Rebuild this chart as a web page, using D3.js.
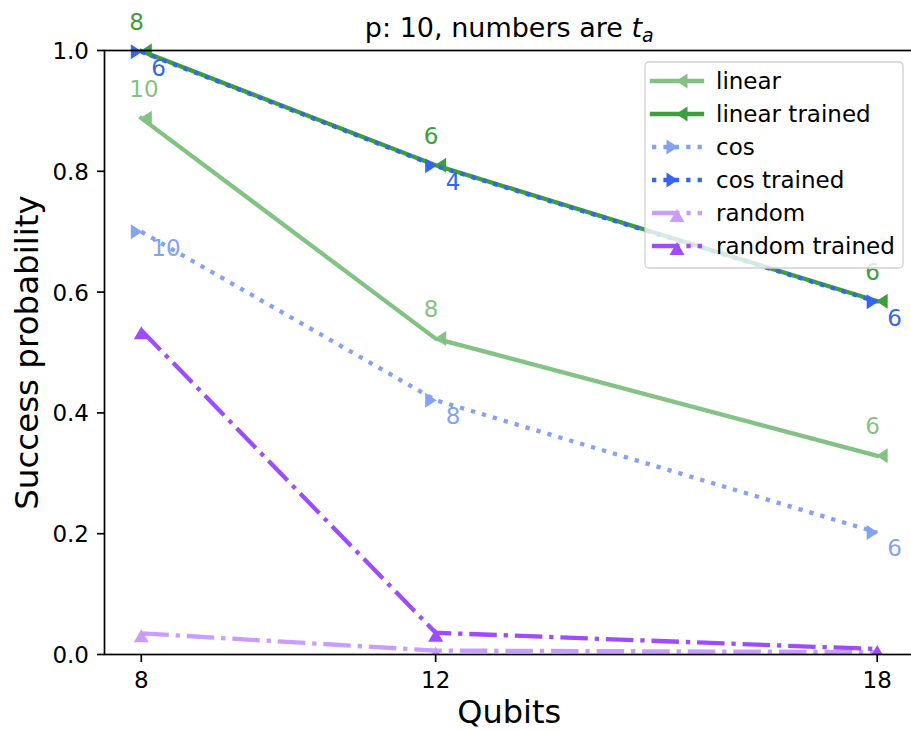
<!DOCTYPE html>
<html>
<head>
<meta charset="utf-8">
<script src="https://cdn.jsdelivr.net/npm/d3@7"></script>
<style>
  body { margin: 0; background: #fff; }
  svg { display: block; }
  text { font-family: "DejaVu Sans", sans-serif; fill: #000; }
</style>
</head>
<body>
<svg id="chart" width="911" height="730"></svg>
<script>
// Success probability per qubit count, with the t_a used at each point
const qubits = [8, 12, 18];
const linear = [0.888, 0.523, 0.329];
const linearTrained = [0.999, 0.810, 0.585];
const cosVals = [0.700, 0.421, 0.202];
const cosTrained = [0.998, 0.809, 0.584];
const randomVals = [0.035, 0.0065, 0.004];
const randomTrained = [0.537, 0.036, 0.009];

const linearTa = [10, 8, 6];
const linearTrainedTa = [8, 6, 6];
const cosTa = [10, 8, 6];
const cosTrainedTa = [6, 4, 6];

const seriesNames = ["linear", "linear trained", "cos", "cos trained", "random", "random trained"];
const xTicks = [8, 12, 18];
const yTicks = [0, 0.2, 0.4, 0.6, 0.8, 1.0];

const svg = d3.select("#chart");
const plot = { left: 104.5, right: 914, top: 50.5, bottom: 654.5 };

const x = d3.scaleLinear().domain([7.5, 18.5]).range([plot.left, plot.right]);
const y = d3.scaleLinear().domain([0, 1]).range([plot.bottom, plot.top]);

const LW = 4.3;
const green = "#339933", blue = "#3366ee", purple = "#9d4dff";
const dotted = `${LW},${LW * 1.65}`;
const dashDot = `${LW * 6.4},${LW * 1.6},${LW},${LW * 1.6}`;

const series = [
  { name: seriesNames[0], values: linear, ta: linearTa, color: green, alpha: 0.6, dash: null, marker: "left", ldx: -12, ldy: -21.5 },
  { name: seriesNames[1], values: linearTrained, ta: linearTrainedTa, color: green, alpha: 0.95, dash: null, marker: "left", ldx: -12, ldy: -21.5 },
  { name: seriesNames[2], values: cosVals, ta: cosTa, color: blue, alpha: 0.6, dash: dotted, marker: "right", ldx: 10, ldy: 24 },
  { name: seriesNames[3], values: cosTrained, ta: cosTrainedTa, color: blue, alpha: 1, dash: dotted, marker: "right", ldx: 10, ldy: 24 },
  { name: seriesNames[4], values: randomVals, ta: null, color: purple, alpha: 0.55, dash: dashDot, marker: "up" },
  { name: seriesNames[5], values: randomTrained, ta: null, color: purple, alpha: 1, dash: dashDot, marker: "up" }
];

// filled triangle markers, tip pointing in the given direction
function markerPath(kind) {
  if (kind === "left") return "M-1,0L10.5,-7.5L10.5,7.5Z";
  if (kind === "right") return "M1,0L-10.5,-7.5L-10.5,7.5Z";
  return "M0,-4L-7.5,9L7.5,9Z";
}

svg.append("defs").append("clipPath").attr("id", "plot-clip")
  .append("rect")
  .attr("x", plot.left).attr("y", plot.top - 8)
  .attr("width", plot.right - plot.left).attr("height", plot.bottom - plot.top + 8);

const dataLayer = svg.append("g").attr("clip-path", "url(#plot-clip)");
const line = d3.line().x((d, i) => x(qubits[i])).y(d => y(d));

series.forEach(s => {
  const g = dataLayer.append("g").attr("opacity", s.alpha);
  g.append("path")
    .datum(s.values)
    .attr("d", line)
    .attr("fill", "none")
    .attr("stroke", s.color)
    .attr("stroke-width", LW)
    .attr("stroke-linejoin", "round")
    .attr("stroke-linecap", s.dash ? "butt" : "square")
    .attr("stroke-dasharray", s.dash);
  g.selectAll("path.mk")
    .data(s.values)
    .join("path")
    .attr("class", "mk")
    .attr("d", markerPath(s.marker))
    .attr("transform", (d, i) => `translate(${x(qubits[i])},${y(d)})`)
    .attr("fill", s.color);
});

// spines
svg.append("rect")
  .attr("x", plot.left).attr("y", plot.top)
  .attr("width", plot.right - plot.left).attr("height", plot.bottom - plot.top)
  .attr("fill", "none").attr("stroke", "#000").attr("stroke-width", 1.7);

// y axis ticks and labels
const yAxis = svg.append("g");
yAxis.selectAll("line").data(yTicks).join("line")
  .attr("x1", plot.left - 7.5).attr("x2", plot.left)
  .attr("y1", d => y(d)).attr("y2", d => y(d))
  .attr("stroke", "#000").attr("stroke-width", 1.7);
yAxis.selectAll("text").data(yTicks).join("text")
  .attr("x", plot.left - 15.5)
  .attr("y", d => y(d) + 8.4)
  .attr("text-anchor", "end")
  .attr("font-size", 23)
  .text(d => d3.format(".1f")(d));

// x axis ticks and labels
const xAxis = svg.append("g");
xAxis.selectAll("line").data(xTicks).join("line")
  .attr("x1", d => x(d)).attr("x2", d => x(d))
  .attr("y1", plot.bottom).attr("y2", plot.bottom + 7.5)
  .attr("stroke", "#000").attr("stroke-width", 1.7);
xAxis.selectAll("text").data(xTicks).join("text")
  .attr("x", d => x(d))
  .attr("y", plot.bottom + 33.3)
  .attr("text-anchor", "middle")
  .attr("font-size", 23)
  .text(d => d);

// t_a annotations
series.filter(s => s.ta).forEach(s => {
  svg.append("g").attr("opacity", s.alpha)
    .selectAll("text").data(s.values).join("text")
    .attr("x", (d, i) => x(qubits[i]) + s.ldx)
    .attr("y", d => y(d) + s.ldy)
    .attr("font-size", 23)
    .style("fill", s.color)
    .text((d, i) => s.ta[i]);
});

// axis labels and title
svg.append("text")
  .attr("x", (plot.left + plot.right) / 2).attr("y", 722.5)
  .attr("text-anchor", "middle").attr("font-size", 32)
  .text("Qubits");
svg.append("text")
  .attr("transform", `translate(37.5,${(plot.top + plot.bottom) / 2}) rotate(-90)`)
  .attr("text-anchor", "middle").attr("font-size", 32.5)
  .text("Success probability");
const title = svg.append("text")
  .attr("x", (plot.left + plot.right) / 2).attr("y", 36.5)
  .attr("text-anchor", "middle").attr("font-size", 27);
title.append("tspan").text("p: 10, numbers are ");
title.append("tspan").attr("font-style", "italic").text("t");
title.append("tspan").attr("font-size", 19).attr("dy", 5).attr("font-style", "italic").text("a");

// legend
const leg = svg.append("g");
leg.append("rect")
  .attr("x", 645).attr("y", 62).attr("width", 258).attr("height", 206)
  .attr("rx", 4).attr("fill", "#fff").attr("fill-opacity", 0.8)
  .attr("stroke", "#d0d0d0").attr("stroke-width", 1.3);
series.forEach((s, i) => {
  const cy = 81 + i * 33;
  const g = leg.append("g");
  const h = g.append("g").attr("opacity", s.alpha);
  h.append("line")
    .attr("x1", 652).attr("x2", 702).attr("y1", cy).attr("y2", cy)
    .attr("stroke", s.color).attr("stroke-width", LW)
    .attr("stroke-linecap", s.dash ? "butt" : "square")
    .attr("stroke-dasharray", s.dash);
  h.append("path")
    .attr("d", markerPath(s.marker))
    .attr("transform", `translate(677,${cy})`)
    .attr("fill", s.color);
  g.append("text")
    .attr("x", 716).attr("y", cy + 8)
    .attr("font-size", 23)
    .text(s.name);
});
</script>
</body>
</html>
